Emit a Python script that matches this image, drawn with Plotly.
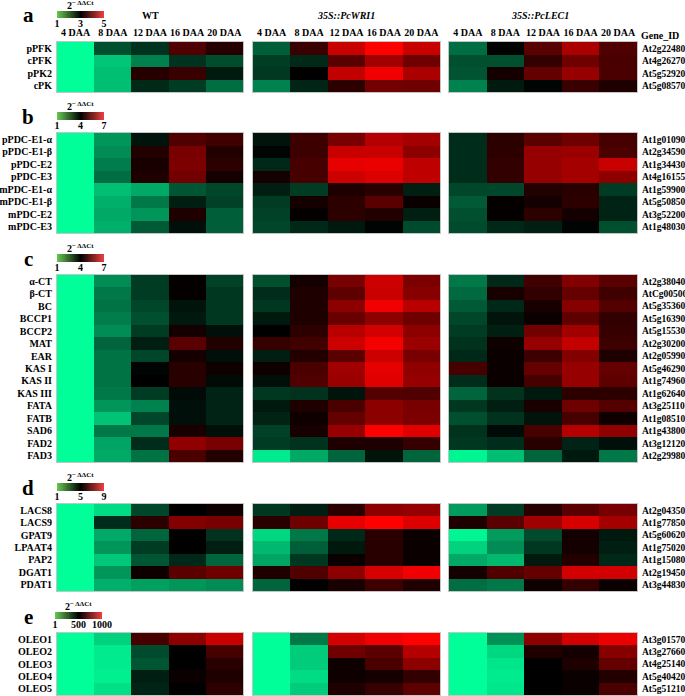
import numpy as np
import plotly.graph_objects as go

W, H = 685, 696

# ---------------- data ----------------
days = ["4 DAA", "8 DAA", "12 DAA", "16 DAA", "20 DAA"]
lines = ["WT", "35S::PcWRI1", "35S::PcLEC1"]

genes_a = ["pPFK", "cPFK", "pPK2", "cPK"]
ids_a = ["At2g22480", "At4g26270", "At5g52920", "At5g08570"]
wt_a = [[1, 2.38, 2.6, 3.62, 3.3],
        [1, 1.44, 2.0, 2.6, 2.4],
        [1, 1.5, 3.3, 3.44, 2.8],
        [1, 1.5, 2.68, 2.54, 2.14]]
wri1_a = [[2.26, 3.44, 4.56, 5.0, 4.56],
          [2.52, 2.68, 3.7, 4.26, 3.86],
          [2.56, 3.0, 4.53, 4.88, 4.33],
          [1.98, 2.72, 3.35, 3.9, 3.86]]
lec1_a = [[2.14, 2.98, 3.7, 4.33, 3.62],
          [2.38, 2.38, 3.4, 3.86, 3.58],
          [2.34, 3.16, 3.78, 4.18, 3.58],
          [1.98, 2.8, 2.96, 3.44, 3.24]]

genes_b = ["pPDC-E1-α", "pPDC-E1-β", "pPDC-E2", "pPDC-E3",
           "mPDC-E1-α", "mPDC-E1-β", "mPDC-E2", "mPDC-E3"]
ids_b = ["At1g01090", "At2g34590", "At1g34430", "At4g16155",
         "At1g59900", "At5g50850", "At3g52200", "At1g48030"]
wt_b = [[1, 2.23, 3.76, 4.94, 4.76],
        [1, 2.35, 4.41, 5.41, 4.41],
        [1, 2.53, 4.3, 5.47, 4.53],
        [1, 2.71, 4.35, 5.35, 4.24],
        [1, 1.75, 2.0, 3.0, 3.18],
        [1, 1.94, 2.59, 3.65, 3.24],
        [1, 2.0, 2.23, 4.35, 2.88],
        [1, 1.94, 2.94, 3.82, 2.88]]
wri1_b = [[3.76, 4.71, 5.41, 6.12, 5.94],
          [3.94, 4.71, 6.35, 6.35, 5.65],
          [3.53, 4.82, 6.7, 6.76, 6.24],
          [4.24, 4.82, 6.41, 6.59, 6.24],
          [3.65, 3.29, 4.35, 4.47, 3.65],
          [3.29, 4.24, 4.53, 5.06, 4.12],
          [3.24, 4.06, 4.53, 4.41, 3.65],
          [3.18, 3.53, 3.71, 3.94, 3.12]]
lec1_b = [[3.47, 4.53, 5.06, 5.29, 4.82],
          [3.47, 4.53, 5.76, 5.82, 4.88],
          [3.47, 4.59, 5.76, 5.94, 6.35],
          [3.47, 4.59, 5.76, 5.94, 5.65],
          [3.18, 3.18, 4.41, 4.47, 3.29],
          [2.94, 4.06, 4.24, 4.53, 3.59],
          [3.06, 4.06, 4.53, 4.24, 3.59],
          [3.12, 3.53, 3.65, 3.94, 3.06]]

genes_c = ["α-CT", "β-CT", "BC", "BCCP1", "BCCP2", "MAT", "EAR", "KAS I",
           "KAS II", "KAS III", "FATA", "FATB", "SAD6", "FAD2", "FAD3"]
ids_c = ["At2g38040", "AtCg00500", "At5g35360", "At5g16390", "At5g15530",
         "At2g30200", "At2g05990", "At5g46290", "At1g74960", "At1g62640",
         "At3g25110", "At1g08510", "At1g43800", "At3g12120", "At2g29980"]
wt_c = [[1, 2.35, 3.29, 4.06, 3.24],
        [1, 2.59, 3.29, 4.06, 3.35],
        [1, 2.65, 3.18, 3.76, 3.35],
        [1, 2.53, 3.06, 3.71, 3.35],
        [1, 2.35, 3.29, 4.24, 3.82],
        [1, 2.82, 3.65, 5.06, 4.41],
        [1, 2.65, 3.18, 4.24, 3.82],
        [1, 2.65, 3.94, 4.47, 4.18],
        [1, 2.65, 4.0, 4.47, 3.88],
        [1, 2.59, 3.29, 3.88, 3.59],
        [1, 2.23, 2.47, 3.82, 3.59],
        [1, 1.71, 3.18, 3.82, 3.59],
        [1, 2.59, 2.59, 4.29, 3.82],
        [1, 2.06, 3.47, 5.71, 5.41],
        [1, 2.0, 2.65, 4.88, 4.41]]
wri1_c = [[3.06, 4.24, 5.41, 6.41, 5.47],
          [3.47, 4.35, 5.12, 6.35, 5.59],
          [3.35, 4.35, 5.65, 6.82, 6.18],
          [3.71, 4.35, 5.24, 5.65, 5.29],
          [4.0, 4.53, 6.18, 6.47, 5.65],
          [4.65, 4.76, 6.41, 6.88, 5.82],
          [3.65, 4.41, 5.06, 6.41, 5.41],
          [4.18, 4.88, 5.88, 6.71, 5.71],
          [3.82, 4.94, 5.82, 6.65, 5.76],
          [3.35, 3.41, 3.76, 5.0, 4.94],
          [3.71, 4.35, 4.88, 5.65, 5.41],
          [3.59, 4.18, 5.18, 5.65, 5.47],
          [3.24, 4.29, 5.76, 7.0, 6.65],
          [3.29, 3.41, 4.35, 4.35, 4.65],
          [1.24, 2.0, 2.82, 3.76, 2.82]]
lec1_c = [[2.59, 3.53, 4.76, 5.53, 5.06],
          [2.76, 4.29, 4.59, 5.18, 4.76],
          [2.94, 3.53, 4.29, 5.59, 5.0],
          [3.18, 3.76, 4.12, 5.12, 4.59],
          [3.29, 3.65, 5.35, 5.88, 4.65],
          [3.41, 4.18, 5.76, 6.29, 4.71],
          [3.53, 4.12, 4.71, 5.53, 4.35],
          [4.82, 4.12, 5.18, 5.76, 5.18],
          [3.47, 4.12, 4.82, 5.76, 5.12],
          [2.82, 3.41, 3.71, 4.53, 4.53],
          [3.35, 3.65, 4.29, 5.29, 5.0],
          [3.06, 3.41, 3.76, 4.82, 4.18],
          [3.41, 3.88, 4.82, 6.12, 5.71],
          [3.35, 3.47, 4.47, 3.59, 3.82],
          [1.12, 1.76, 2.82, 3.71, 2.59]]

genes_d = ["LACS8", "LACS9", "GPAT9", "LPAAT4", "PAP2", "DGAT1", "PDAT1"]
ids_d = ["At2g04350", "At1g77850", "At5g60620", "At1g75020",
         "At1g15080", "At2g19450", "At3g44830"]
wt_d = [[1, 1.55, 3.9, 5.0, 5.24],
        [1, 4.29, 5.71, 7.04, 6.88],
        [1, 2.33, 3.43, 5.0, 4.22],
        [1, 2.65, 4.06, 5.0, 4.53],
        [1, 1.86, 3.67, 4.37, 3.43],
        [1, 2.65, 5.24, 6.41, 6.73],
        [1, 2.25, 2.49, 2.65, 2.8]]
wri1_d = [[4.14, 4.53, 5.71, 7.2, 7.35],
          [5.63, 6.73, 8.61, 9.0, 8.45],
          [1.63, 3.12, 4.37, 5.63, 5.16],
          [2.1, 3.51, 4.61, 5.63, 5.16],
          [2.41, 4.14, 5.16, 5.63, 5.16],
          [5.47, 6.25, 7.2, 8.37, 8.76],
          [3.43, 5.0, 5.39, 5.94, 5.47]]
lec1_d = [[2.57, 4.06, 5.63, 6.41, 6.88],
          [5.47, 6.41, 7.51, 8.37, 7.59],
          [1.16, 2.57, 3.82, 5.31, 4.61],
          [1.71, 2.8, 4.14, 5.31, 4.53],
          [2.33, 2.1, 4.61, 5.55, 4.37],
          [5.31, 6.25, 6.57, 8.29, 8.29],
          [3.27, 3.12, 5.24, 5.78, 5.16]]

genes_e = ["OLEO1", "OLEO2", "OLEO3", "OLEO4", "OLEO5"]
ids_e = ["At3g01570", "At3g27660", "At4g25140", "At5g40420", "At5g51210"]
wt_e = [[1, 91, 637, 775, 892],
        [1, 40, 354, 500, 637],
        [1, 40, 334, 500, 578],
        [1, 30, 441, 520, 559],
        [1, 60, 431, 500, 588]]
wri1_e = [[1, 265, 911, 970, 1000],
          [1, 100, 715, 676, 853],
          [1, 100, 529, 647, 774],
          [1, 70, 529, 539, 598],
          [1, 100, 559, 608, 686]]
lec1_e = [[1, 216, 774, 911, 960],
          [1, 80, 559, 539, 765],
          [1, 50, 500, 559, 696],
          [1, 40, 500, 520, 569],
          [1, 50, 500, 520, 647]]

scale_a = [1, 3, 5]
scale_b = [1, 4, 7]
scale_c = [1, 4, 7]
scale_d = [1, 5, 9]
scale_e = [1, 500, 1000]

# ---------------- layout / style ----------------
FONT = "Liberation Serif"
CELL_CS = [[0, "rgb(0,255,153)"], [0.5, "rgb(0,0,0)"], [1, "rgb(255,0,0)"]]
KEY_CS = [[0, "rgb(105,200,85)"], [0.5, "rgb(0,0,0)"], [1, "rgb(245,65,65)"]]
BORDER = "#c4c4c4"

blocks_px = [(57, 243), (253, 440), (449, 637)]
panels = [
    dict(letter="a", genes=genes_a, ids=ids_a, data=[wt_a, wri1_a, lec1_a], scale=scale_a,
         ypx=(42, 92), key=(57, 104, 11, 18)),
    dict(letter="b", genes=genes_b, ids=ids_b, data=[wt_b, wri1_b, lec1_b], scale=scale_b,
         ypx=(133, 233), key=(57, 104, 112, 120)),
    dict(letter="c", genes=genes_c, ids=ids_c, data=[wt_c, wri1_c, lec1_c], scale=scale_c,
         ypx=(275, 462), key=(57, 104, 254, 262)),
    dict(letter="d", genes=genes_d, ids=ids_d, data=[wt_d, wri1_d, lec1_d], scale=scale_d,
         ypx=(504, 591), key=(57, 104, 483, 491)),
    dict(letter="e", genes=genes_e, ids=ids_e, data=[wt_e, wri1_e, lec1_e], scale=scale_e,
         ypx=(633, 695), key=(55, 102, 612, 619)),
]


def sx(k):
    return "" if k == 1 else str(k)


def b(t):
    return "<b>" + t + "</b>"


fig = go.Figure()
layout = {}
annotations = []
k = 0
for pi, p in enumerate(panels):
    n = len(p["genes"])
    zmin, zmid, zmax = p["scale"]
    y0, y1 = p["ypx"]
    for bi, ((x0, x1), z) in enumerate(zip(blocks_px, p["data"])):
        k += 1
        s = sx(k)
        fig.add_trace(go.Heatmap(
            z=z, x=list(range(5)), y=list(range(n)),
            colorscale=CELL_CS, zmin=zmin, zmax=zmax, showscale=False,
            xaxis="x" + s, yaxis="y" + s, hoverinfo="skip"))
        xa = dict(domain=[x0 / W, x1 / W], range=[-0.5, 4.5], anchor="y" + s,
                  showgrid=False, zeroline=False, showline=True, mirror=True,
                  linecolor=BORDER, linewidth=1, ticks="", fixedrange=True,
                  automargin=False, tickangle=0)
        if pi == 0:
            xa.update(side="top", tickvals=list(range(5)), ticktext=[b(d) for d in days],
                      tickfont=dict(family=FONT, size=10, color="black"),
                      ticklabelstandoff=1)
        else:
            xa["showticklabels"] = False
        ya = dict(domain=[1 - y1 / H, 1 - y0 / H], range=[n - 0.5, -0.5], anchor="x" + s,
                  showgrid=False, zeroline=False, showline=True, mirror=True,
                  linecolor=BORDER, linewidth=1, ticks="", fixedrange=True,
                  automargin=False, tickvals=list(range(n)),
                  tickfont=dict(family=FONT, size=10, color="black"))
        if bi == 0:
            ya.update(side="left", ticktext=[b(g) for g in p["genes"]], ticklabelstandoff=2)
        elif bi == 2:
            ya.update(side="right", ticktext=[b(g) for g in p["ids"]], ticklabelstandoff=2,
                      tickfont=dict(family=FONT, size=9.5, color="black"))
        else:
            ya["showticklabels"] = False
        layout["xaxis" + s] = xa
        layout["yaxis" + s] = ya

    # colour key
    k += 1
    s = sx(k)
    kx0, kx1, ky0, ky1 = p["key"]
    grad = np.linspace(zmin, zmax, 90)
    fig.add_trace(go.Heatmap(
        z=[grad], x=grad, y=[0], colorscale=KEY_CS, zmin=zmin, zmax=zmax,
        showscale=False, xaxis="x" + s, yaxis="y" + s, hoverinfo="skip"))
    layout["xaxis" + s] = dict(domain=[kx0 / W, kx1 / W], range=[zmin, zmax],
                               anchor="free", position=1 - (ky1 - 2) / H,
                               showgrid=False, zeroline=False, showline=False, ticks="",
                               tickvals=p["scale"], ticktext=[b(str(v)) for v in p["scale"]],
                               tickfont=dict(family=FONT, size=10, color="black"),
                               ticklabelstandoff=0, fixedrange=True,
                               automargin=False, tickangle=0)
    layout["yaxis" + s] = dict(domain=[1 - ky1 / H, 1 - ky0 / H], range=[-0.5, 0.5],
                               anchor="x" + s, showticklabels=False, showgrid=False,
                               zeroline=False, showline=False, ticks="",
                               fixedrange=True, automargin=False)
    annotations.append(dict(
        x=(kx0 + kx1) / 2 / W, y=1 - (ky0 + 2) / H, xref="paper", yref="paper",
        xanchor="center", yanchor="bottom", showarrow=False,
        text="<b>2</b><sup><b>− ΔΔCt</b></sup>",
        font=dict(family=FONT, size=10, color="black")))
    annotations.append(dict(
        x=28 / W, y=1 - ((ky0 + ky1) / 2 + 1) / H, xref="paper", yref="paper",
        xanchor="center", yanchor="middle", showarrow=False,
        text=b(p["letter"]), font=dict(family=FONT, size=21, color="black")))

# line titles
title_x = [150, 346, 540]
for t, tx in zip(lines, title_x):
    txt = b(t) if t == "WT" else "<b><i>" + t + "</i></b>"
    annotations.append(dict(x=tx / W, y=1 - 15 / H, xref="paper", yref="paper",
                            xanchor="center", yanchor="middle", showarrow=False,
                            text=txt, font=dict(family=FONT, size=10, color="black")))
annotations.append(dict(x=639 / W, y=1 - 36 / H, xref="paper", yref="paper",
                        xanchor="left", yanchor="middle", showarrow=False,
                        text=b("Gene_ID"), font=dict(family=FONT, size=10, color="black")))

fig.update_layout(
    template="none",
    width=W, height=H, autosize=False,
    margin=dict(l=0, r=0, t=0, b=0, pad=0),
    paper_bgcolor="white", plot_bgcolor="white",
    showlegend=False, annotations=annotations,
    **layout)

fig.write_html("out.html", config={"displayModeBar": False},
               post_script="document.body.style.margin='0';document.body.style.padding='0';")
